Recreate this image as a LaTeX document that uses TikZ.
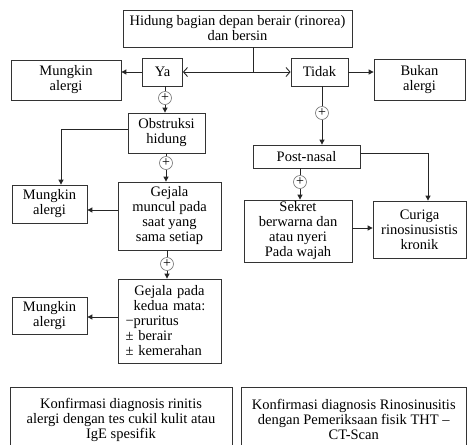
\documentclass[tikz,border=0pt]{standalone}
\usepackage{fontspec}
\setmainfont{Liberation Serif}
\usetikzlibrary{arrows.meta}
\newcommand\myfs{\fontsize{14.5}{15}\selectfont}
\begin{document}
\begin{tikzpicture}[x=1pt,y=-1pt,
  box/.style={draw=black!80, line width=0.8pt, inner sep=0pt, align=center, font=\myfs},
  plus/.style={circle, draw=black!55, line width=0.6pt, minimum size=13pt, inner sep=0pt, font=\fontsize{14}{14}\selectfont, fill=white},
  ln/.style={line width=0.9pt, draw=black!85},
  arr/.style={ln, -{Triangle[length=5pt,width=5pt]}},
  barb/.style={ln, -{Straight Barb[length=4pt,width=9pt]}}]
\useasboundingbox[fill=white] (0,0) rectangle (467,445);
% boxes
\node[box, minimum width=229pt, minimum height=37pt] (top) at (237.5,28.5) {Hidung bagian depan berair (rinorea)\\dan bersin};
\node[box, minimum width=40pt, minimum height=28pt] (ya) at (162.5,72) {Ya};
\node[box, minimum width=57pt, minimum height=28pt] (tidak) at (319.5,72) {Tidak};
\node[box, minimum width=110pt, minimum height=40pt] (m1) at (66,80) {Mungkin\\alergi};
\node[box, minimum width=91pt, minimum height=41pt] (bukan) at (419.5,79.5) {Bukan\\alergi};
\node[box, minimum width=77pt, minimum height=40pt] (obs) at (166.5,133) {Obstruksi\\hidung};
\node[box, minimum width=107pt, minimum height=23pt] (post) at (306.5,156.5) {Post-nasal};
\node[box, minimum width=75pt, minimum height=38pt] (m2) at (49.5,204) {Mungkin\\alergi};
\node[box, minimum width=103pt, minimum height=68pt] (gej1) at (169.5,216) {Gejala\\muncul pada\\saat yang\\sama setiap};
\node[box, minimum width=108pt, minimum height=62pt] (sekret) at (298,231) {Sekret\\berwarna dan\\atau nyeri\\Pada wajah};
\node[box, minimum width=93pt, minimum height=57pt] (curiga) at (419.5,229.5) {Curiga\\rinosinusistis\\kronik};
\node[box, align=left, text width=88pt, inner xsep=7.5pt, minimum height=84pt] (gej2) at (169.5,321)
  {\makebox[88pt]{Gejala pada}\\\makebox[88pt]{kedua mata:}\\−pruritus\\± berair\\± kemerahan};
\node[box, minimum width=75pt, minimum height=37pt] (m3) at (49.5,315.5) {Mungkin\\alergi};
\node[box, minimum width=222pt, minimum height=65pt] (konf1) at (121,419.5) {Konfirmasi diagnosis rinitis\\alergi dengan tes cukil kulit atau\\IgE spesifik};
\node[box, minimum width=225.5pt, minimum height=65pt] (konf2) at (353.75,419.5) {Konfirmasi diagnosis Rinosinusitis\\dengan Pemeriksaan fisik THT –\\CT-Scan};
% plus circles
\node[plus] (p1) at (165,98) {+};
\node[plus] (p2) at (166,163) {+};
\node[plus] (p3) at (167,264) {+};
\node[plus] (p4) at (322,113) {+};
\node[plus] (p5) at (300,182) {+};
% connectors
\coordinate (j) at (253,72);
\draw[ln] (top.south -| j) -- (j);
\draw[barb] (j) -- (ya.east);
\draw[barb] (j) -- (tidak.west);
\draw[arr] (ya.west) -- (ya.west -| m1.east);
\draw[arr] (tidak.east) -- (tidak.east -| bukan.west);
\draw[ln] (ya.south -| p1) -- (p1);
\draw[arr] (p1) -- (p1 |- obs.north);
\coordinate (o1) at ([yshift=4pt]obs.west);
\coordinate (o2) at ([xshift=11.5pt]m2.north);
\draw[arr] (o1) -| (o2);
\draw[ln] (obs.south -| p2) -- (p2);
\draw[arr] (p2) -- (p2 |- gej1.north);
\coordinate (g1) at ([yshift=6pt]gej1.west);
\draw[arr] (g1) -- (g1 -| m2.east);
\draw[ln] (gej1.south -| p3) -- (p3);
\draw[arr] (p3) -- (p3 |- gej2.north);
\coordinate (g2) at ([yshift=4pt]gej2.west);
\draw[arr] (g2) -- (g2 -| m3.east);
\draw[ln] (tidak.south -| p4) -- (p4);
\draw[arr] (p4) -- (p4 |- post.north);
\coordinate (q1) at ([yshift=3.5pt]post.east);
\coordinate (q2) at ([xshift=8.5pt]curiga.north);
\draw[arr] (q1) -| (q2);
\draw[ln] (post.south -| p5) -- (p5);
\draw[arr] (p5) -- (p5 |- sekret.north);
\coordinate (s1) at ([yshift=3pt]sekret.east);
\draw[arr] (s1) -- (s1 -| curiga.west);
\end{tikzpicture}
\end{document}
